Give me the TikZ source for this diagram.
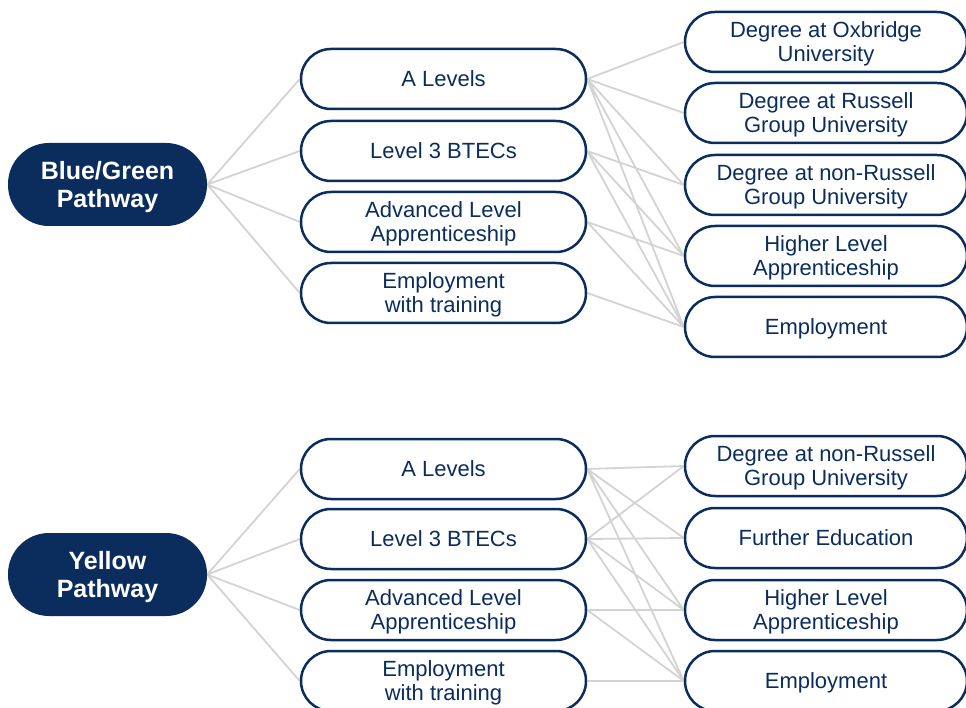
\documentclass[tikz,border=0pt]{standalone}
\usepackage{fontspec}
\setmainfont{Liberation Sans}
\usetikzlibrary{backgrounds}
\definecolor{navy}{HTML}{0B2D5E}
\definecolor{lgray}{HTML}{D3D3D3}
\tikzstyle{pw}=[fill=navy,text=white,rounded corners=41pt,minimum width=199pt,minimum height=83pt,inner sep=0,text depth=-3pt,align=center,font=\fontsize{25}{28}\selectfont\bfseries]
\tikzstyle{opt}=[draw=navy,line width=2.5pt,fill=white,text=navy,rounded corners=30pt,minimum width=285pt,minimum height=60pt,inner sep=0,text depth=-2pt,align=center,font=\fontsize{22}{24}\selectfont]
\tikzstyle{dest}=[opt,minimum width=282pt]
\tikzstyle{link}=[draw=lgray,line width=1.8pt]

\begin{document}
\begin{tikzpicture}[x=1pt,y=-1pt]
	\useasboundingbox (0,0) rectangle (966,708);

	% blue/green pathway
	\node[pw] (bg) at (107.5,184.5) {Blue/Green\\Pathway};

	\node[opt,text depth=-7pt] (al) at (443.5,79) {A Levels};
	\node[opt,text depth=-7pt] (bt) at (443.5,151) {Level 3 BTECs};
	\node[opt] (ap) at (443.5,222) {Advanced Level\\Apprenticeship};
	\node[opt] (et) at (443.5,293) {Employment\\with training};

	\node[dest] (ox) at (826,42) {Degree at Oxbridge\\University};
	\node[dest] (ru) at (826,113) {Degree at Russell\\Group University};
	\node[dest] (nr) at (826,185) {Degree at non-Russell\\Group University};
	\node[dest] (hl) at (826,256) {Higher Level\\Apprenticeship};
	\node[dest] (em) at (826,327) {Employment};

	% yellow pathway
	\node[pw] (yp) at (107.5,574.5) {Yellow\\Pathway};

	\node[opt,text depth=-4pt] (yal) at (443.5,469) {A Levels};
	\node[opt,text depth=-5pt] (ybt) at (443.5,539) {Level 3 BTECs};
	\node[opt] (yap) at (443.5,610) {Advanced Level\\Apprenticeship};
	\node[opt] (yet) at (443.5,681) {Employment\\with training};

	\node[dest] (ynr) at (826,466) {Degree at non-Russell\\Group University};
	\node[dest] (yfe) at (826,538) {Further Education};
	\node[dest] (yhl) at (826,610) {Higher Level\\Apprenticeship};
	\node[dest] (yem) at (826,681) {Employment};

	\begin{scope}[on background layer]
	\draw[link]
	(bg.east) -- (al.west)
	(bg.east) -- (bt.west)
	(bg.east) -- (ap.west)
	(bg.east) -- (et.west)
	(al.east) -- (ox.west)
	(al.east) -- (ru.west)
	(al.east) -- (nr.west)
	(al.east) -- (hl.west)
	(al.east) -- (em.west)
	(bt.east) -- (nr.west)
	(bt.east) -- (hl.west)
	(bt.east) -- (em.west)
	(ap.east) -- (hl.west)
	(ap.east) -- (em.west)
	(et.east) -- (em.west)

	(yp.east) -- (yal.west)
	(yp.east) -- (ybt.west)
	(yp.east) -- (yap.west)
	(yp.east) -- (yet.west)
	(yal.east) -- (ynr.west)
	(yal.east) -- (yfe.west)
	(yal.east) -- (yhl.west)
	(yal.east) -- (yem.west)
	(ybt.east) -- (ynr.west)
	(ybt.east) -- (yfe.west)
	(ybt.east) -- (yhl.west)
	(ybt.east) -- (yem.west)
	(yap.east) -- (yhl.west)
	(yap.east) -- (yem.west)
	(yet.east) -- (yem.west)
	;
	\end{scope}

\end{tikzpicture}
\end{document}
